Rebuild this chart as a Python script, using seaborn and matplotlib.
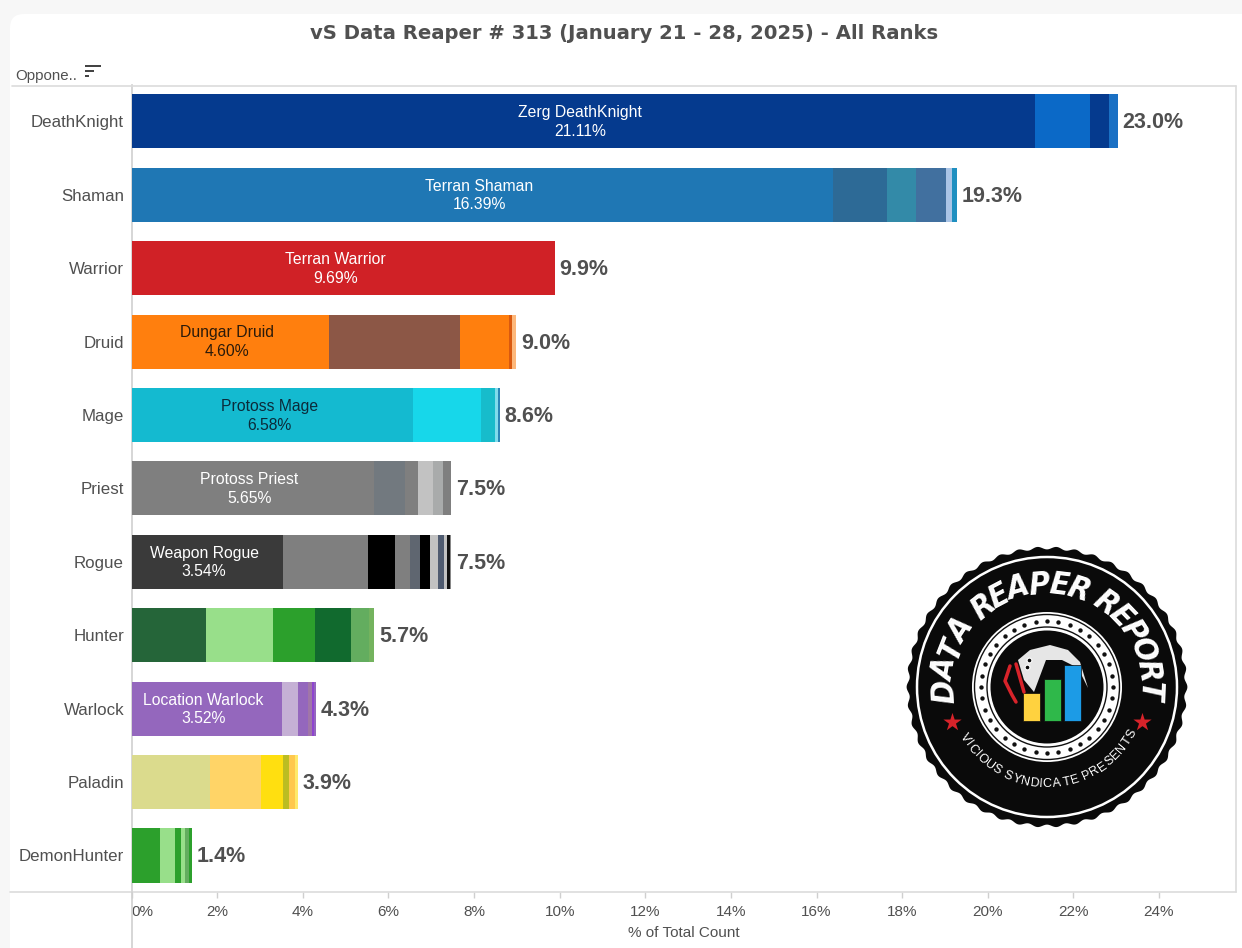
import numpy as np
import pandas as pd
import matplotlib
matplotlib.use('Agg')
import matplotlib.pyplot as plt
from matplotlib.font_manager import FontProperties
from matplotlib.patches import Circle, FancyBboxPatch, Polygon, Rectangle
from matplotlib.textpath import TextPath
import seaborn as sns

# Values
opponents = ['DeathKnight', 'Shaman', 'Warrior', 'Druid', 'Mage', 'Priest',
             'Rogue', 'Hunter', 'Warlock', 'Paladin', 'DemonHunter']
totals = [23.0, 19.3, 9.9, 9.0, 8.6, 7.5, 7.5, 5.7, 4.3, 3.9, 1.4]

deathknight = [21.11, 1.28, 0.45, 0.20]
shaman = [16.39, 1.25, 0.68, 0.70, 0.14, 0.13]
warrior = [9.69, 0.19]
druid = [4.60, 3.07, 1.15, 0.06, 0.11]
mage = [6.58, 1.58, 0.34, 0.05, 0.05]
priest = [5.65, 0.74, 0.31, 0.35, 0.23, 0.19]
rogue = [3.54, 1.99, 0.63, 0.34, 0.23, 0.25, 0.17, 0.15, 0.06, 0.08, 0.03]
hunter = [1.74, 1.55, 1.00, 0.83, 0.43, 0.12]
warlock = [3.52, 0.36, 0.23, 0.10, 0.05, 0.05]
paladin = [1.84, 1.17, 0.53, 0.14, 0.14, 0.06]
demonhunter = [0.67, 0.35, 0.14, 0.09, 0.10, 0.05]
segments = [deathknight, shaman, warrior, druid, mage, priest, rogue, hunter,
            warlock, paladin, demonhunter]

colors = [
    ['#053a8e', '#0b69c7', '#053a8e', '#1a70c4'],
    ['#1f77b4', '#2d6a96', '#338aa8', '#41709f', '#a9c4e6', '#1f8fc0'],
    ['#d02126', '#d02126'],
    ['#ff7f0e', '#8c5746', '#ff7f0e', '#d9590f', '#fdb77a'],
    ['#14bad0', '#17d7ea', '#17bccb', '#7fdcec', '#2a86b8'],
    ['#7f7f7f', '#72797f', '#7f7f7f', '#c2c2c2', '#a9abab', '#7f7f7f'],
    ['#3a3a3a', '#7f7f7f', '#000000', '#7f7f7f', '#5f6670', '#000000',
     '#c2c2c2', '#4f5b70', '#c2c2c2', '#111111', '#888888'],
    ['#256539', '#98df8a', '#2ca02c', '#116a2e', '#63ad5f', '#74b35e'],
    ['#9467bd', '#c5b0d5', '#9467bd', '#a076a8', '#8e44d0', '#9467bd'],
    ['#dbdb8d', '#ffd467', '#ffdf10', '#bcbd22', '#ffc84d', '#ffe96a'],
    ['#2ca02c', '#98df8a', '#2ca02c', '#98df8a', '#63ad5f', '#2ca02c'],
]

bar_names = ['Zerg DeathKnight', 'Terran Shaman', 'Terran Warrior', 'Dungar Druid',
             'Protoss Mage', 'Protoss Priest', 'Weapon Rogue', None,
             'Location Warlock', None, None]
name_colors = ['white', 'white', 'white', '#2a1a0a', '#0b2b3a', 'white', 'white',
               None, 'white', None, None]

tick_values = list(range(0, 25, 2))

W, H = 1242, 948
grey = '#505050'
line_grey = '#dcdcdc'

sns.set_theme(style='white')
plt.rcParams['font.family'] = ['Liberation Sans', 'DejaVu Sans']

# Long table with the running total of each segment
rows = []
for name, vals, cols in zip(opponents, segments, colors):
    running = np.cumsum(vals)
    for k in range(len(vals)):
        rows.append({'opponent': name, 'layer': k, 'cum': running[k], 'color': cols[k]})
df = pd.DataFrame(rows)

fig = plt.figure(figsize=(W / 100, H / 100), dpi=100, facecolor='#f7f7f7')

# Page background and white card
bg = fig.add_axes([0, 0, 1, 1], zorder=0)
bg.set_xlim(0, W)
bg.set_ylim(H, 0)
bg.axis('off')
bg.add_patch(FancyBboxPatch((22, 26), W + 40, H + 40,
                            boxstyle='round,pad=12,rounding_size=14',
                            fc='white', ec='none'))

ax_left, ax_right, ax_top, ax_bottom = 131.7, 1236.0, 84.6, 892.2
ax = fig.add_axes([ax_left / W, 1 - ax_bottom / H, (ax_right - ax_left) / W, (ax_bottom - ax_top) / H],
                  zorder=1)
ax.patch.set_alpha(0)

# Stacked bars: longest running total first, shorter ones painted on top
for k in sorted(df['layer'].unique(), reverse=True):
    part = df[df['layer'] == k]
    palette = dict(zip(part['opponent'], part['color']))
    sns.barplot(data=part, x='cum', y='opponent', hue='opponent', order=opponents,
                hue_order=list(part['opponent']), palette=palette, width=0.737,
                saturation=1, legend=False, dodge=False, linewidth=0, ax=ax)

ax.set_xlim(0, (ax_right - ax_left) / 42.8)
ax.set_ylim(10.5, -0.5)
ax.set_xticks(tick_values)
ax.set_xticklabels([f'{v}%' for v in tick_values], fontsize=11, color=grey)
ax.get_xticklabels()[0].set_ha('left')
ax.tick_params(axis='x', length=4, width=1, color='#cfcfcf', pad=5, bottom=True)
ax.tick_params(axis='y', length=0, pad=5.5)
ax.set_yticks(range(len(opponents)))
ax.set_yticklabels(opponents, fontsize=12.2, color=grey)
ax.set_xlabel('% of Total Count', fontsize=11, color=grey, labelpad=5)
ax.set_ylabel('')
sns.despine(ax=ax, top=True, right=True)
ax.spines['bottom'].set_color(line_grey)
ax.spines['bottom'].set_linewidth(1.2)
ax.spines['left'].set_color('#cfcfcf')
ax.spines['left'].set_linewidth(1.2)
ax.spines['left'].set_zorder(0.5)

for i, total in enumerate(totals):
    ax.text(sum(segments[i]) + 0.11, i + 0.02, f'{total:.1f}%', fontsize=15.5, fontweight='bold',
            color=grey, va='center', ha='left')
    if bar_names[i]:
        ax.text(segments[i][0] / 2 - 0.08, i + 0.01, f'{bar_names[i]}\n{segments[i][0]:.2f}%',
                fontsize=11.3, color=name_colors[i], ha='center', va='center', linespacing=1.3)

# Overlay for the header and the badge, drawn in pixel units
top = fig.add_axes([0, 0, 1, 1], zorder=2)
top.set_xlim(0, W)
top.set_ylim(H, 0)
top.axis('off')
top.patch.set_alpha(0)

top.text(624.5, 33, 'vS Data Reaper # 313 (January 21 - 28, 2025) - All Ranks', family='DejaVu Sans',
         fontsize=14.1, fontweight='bold', color=grey, ha='center', va='center')
top.text(15, 75.5, 'Oppone..', fontsize=10.8, color=grey, ha='left', va='center')
for y0, x1 in [(66, 101), (71, 94), (76, 89)]:
    top.add_patch(Rectangle((85, y0 - 1), x1 - 85, 2.4, fc='#444444', ec='none'))
top.plot([12, ax_right], [86, 86], color=line_grey, lw=1.2)
top.plot([ax_right, ax_right], [86, ax_bottom], color=line_grey, lw=1.2)
top.plot([10, ax_left], [ax_bottom, ax_bottom], color=line_grey, lw=1.2)
top.plot([ax_left, ax_left], [ax_bottom, H], color='#cfcfcf', lw=1.2)

# Badge
cx, cy = 1047, 687
theta = np.linspace(0, 2 * np.pi, 721)
r_edge = 139 + 1.4 * np.cos(46 * theta)
top.add_patch(Polygon(np.c_[cx + r_edge * np.cos(theta), cy + r_edge * np.sin(theta)], fc='#0a0a0a', ec='none'))
top.add_patch(Circle((cx, cy), 130, fc='none', ec='white', lw=1.8))
top.add_patch(Circle((cx, cy), 75, fc='white', ec='none'))
top.add_patch(Circle((cx, cy), 72.5, fc='none', ec='#111111', lw=1))
top.add_patch(Circle((cx, cy), 60, fc='none', ec='#111111', lw=1))
top.add_patch(Circle((cx, cy), 56.5, fc='#0a0a0a', ec='none'))
dot_angles = np.linspace(0, 2 * np.pi, 37)[:-1]
top.scatter(cx + 66 * np.cos(dot_angles), cy + 66 * np.sin(dot_angles), s=10, color='#111111', linewidths=0)


def arc_text(s, start, stop, radius, size, family='Liberation Sans', **kw):
    # letters are spread along the arc by their own widths, angles in degrees counterclockwise
    fp = FontProperties(family=family, size=size, weight=kw.get('fontweight', 'normal'),
                        style=kw.get('style', 'normal'))
    widths = [TextPath((0, 0), ch if ch != ' ' else 'i', prop=fp).get_extents().width + size * 0.14 for ch in s]
    edges = np.cumsum([0] + widths)
    mids = (edges[:-1] + edges[1:]) / 2 / edges[-1]
    upper = start > stop
    for ch, m in zip(s, mids):
        a = np.radians(start + (stop - start) * m)
        rot = np.degrees(a) - 90 if upper else np.degrees(a) + 90
        top.text(cx + radius * np.cos(a), cy - radius * np.sin(a), ch, rotation=rot, fontsize=size, family=family,
                 rotation_mode='anchor', ha='center', va='center', color='white', **kw)


arc_text('DATA REAPER REPORT', 189, -8, 102, 23, family='DejaVu Sans', fontweight='bold',
         style='italic', stretch='condensed')
arc_text('VICIOUS SYNDICATE PRESENTS', 209, 334, 97, 9)
top.scatter([cx - 95, cx + 95], [cy + 35, cy + 35], marker='*', s=190, color='#d8232a', linewidths=0)

# Scythe blade behind the little bars
blade = [(1018, 660), (1030, 650), (1050, 645), (1068, 650), (1080, 662), (1088, 688),
         (1078, 668), (1062, 660), (1046, 660), (1034, 692), (1024, 680)]
top.add_patch(Polygon(blade, fc='#e6e6e6', ec='none'))
top.plot([1010, 1005, 1012, 1016], [666, 681, 695, 702], color='#d8232a', lw=2.5)
top.plot([1016, 1024], [664, 692], color='#d8232a', lw=2.5)
top.scatter([1029, 1027], [660, 667], s=12, color='#0a0a0a', edgecolors='white', linewidths=0.8)
for x0, x1, y_top, col in [(1023, 1040, 693, '#ffd23f'), (1044, 1061, 679, '#2fb84a'), (1064, 1081, 665, '#1c9be6')]:
    top.add_patch(Rectangle((x0, y_top), x1 - x0, 721 - y_top, fc=col, ec='#0a0a0a', lw=0.5))

fig.savefig('out.png', dpi=100)
